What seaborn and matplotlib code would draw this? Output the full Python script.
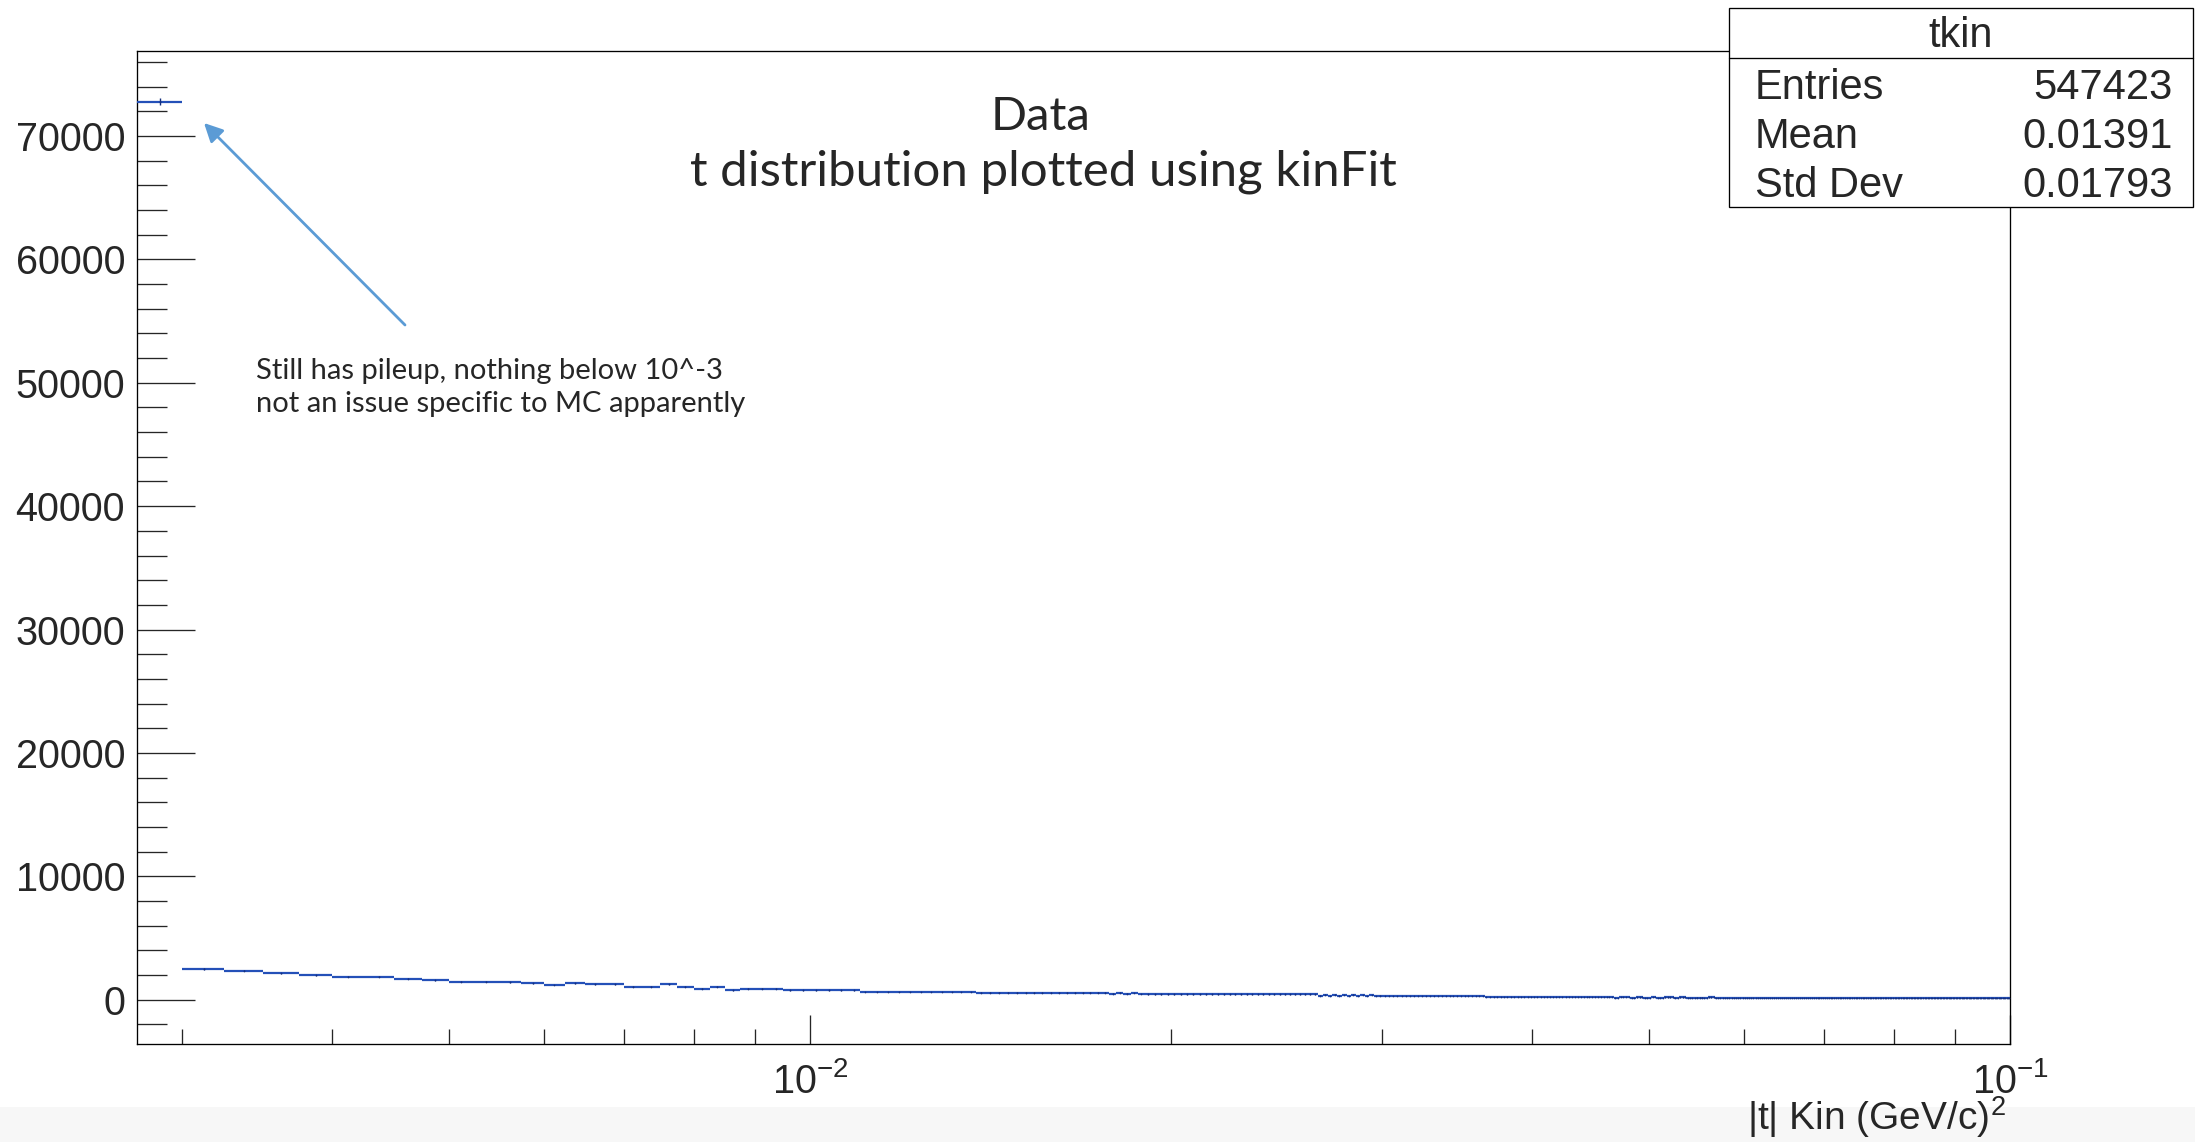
import numpy as np
import pandas as pd
import matplotlib
matplotlib.use("Agg")
import matplotlib.pyplot as plt
import seaborn as sns
from matplotlib.patches import Rectangle, FancyArrowPatch
from matplotlib.ticker import FixedLocator, FixedFormatter, NullFormatter, LogLocator, MultipleLocator

# ---------------- data ----------------
BIN_LOW = 0.00275      # |t| histogram binning (GeV/c)^2
BIN_HIGH = 0.1
N_BINS = 389

spike_counts = [72780]                       # pile-up bin 0.00275-0.003
low_t_counts = [2487, 2349, 2133, 1971, 1870, 1855, 1701, 1566, 1458, 1458,
                1420, 1323, 1188, 1323, 1242, 1242, 1053, 1053, 1242, 1053,
                891, 1053, 756, 891, 891, 891, 756, 756, 756, 756,
                756, 756, 621, 621, 621, 621, 621, 621, 621, 621,
                621, 621, 621]
mid_t_counts = [580] * 15 + [580, 500, 580, 500, 560, 480] + [440] * 29 + \
               [430, 330, 420, 320, 410, 330, 400, 310, 420, 300, 400, 320, 380, 300, 330]
tail_runs = [(280, 26), (220, 38),
             (210, 3), (140, 2), (200, 4), (130, 2), (190, 3), (150, 3), (200, 2),
             (120, 3), (180, 4), (140, 2), (190, 3), (130, 4), (170, 3), (140, 2),
             (180, 3), (120, 4), (160, 3), (130, 2),
             (130, 82), (110, 82)]

stats_labels = ["Entries", "Mean", "Std Dev"]
stats_values = ["547423", "0.01391", "0.01793"]
y_major_ticks = [0, 10000, 20000, 30000, 40000, 50000, 60000, 70000]
x_major_ticks = [0.01, 0.1]
x_major_labels = [r"$10^{-2}$", r"$10^{-1}$"]

# ---------------- build table ----------------
counts = list(spike_counts) + list(low_t_counts) + list(mid_t_counts)
for v, n in tail_runs:
    counts += [v] * n
counts = np.array(counts, dtype=float)
edges = np.linspace(BIN_LOW, BIN_HIGH, N_BINS + 1)
df = pd.DataFrame({"lo": edges[:-1], "hi": edges[1:], "count": counts[:N_BINS]})
df["t"] = 0.5 * (df["lo"] + df["hi"])
df["err"] = np.sqrt(df["count"])

# ---------------- style ----------------
W, H = 2195, 1142
sns.set_style("ticks")
plt.rcParams["font.family"] = ["Liberation Sans", "DejaVu Sans"]
plt.rcParams["mathtext.fontset"] = "custom"
plt.rcParams["mathtext.rm"] = "Liberation Sans"
plt.rcParams["mathtext.it"] = "Liberation Sans:italic"
plt.rcParams["mathtext.bf"] = "Liberation Sans:bold"
plt.rcParams["axes.linewidth"] = 0.95
plt.rcParams["axes.edgecolor"] = "black"

def fx(x):
    return x / W

def fy(y):
    return 1 - y / H

fig = plt.figure(figsize=(W / 100, H / 100), dpi=100)
fig.patch.set_facecolor("white")

# grey slide band at bottom
fig.add_artist(Rectangle((0, 0), 1, fy(1107), transform=fig.transFigure,
                         facecolor="#f7f7f7", edgecolor="none", zorder=-5))

ax = fig.add_axes([fx(137), fy(1044), fx(2010) - fx(137), fy(51) - fy(1044)])
ax.set_facecolor("white")

BLUE = "#2450b8"
NAVY = "#15307e"
ax.hlines(df["count"], df["lo"], df["hi"], color=BLUE, lw=1.6, zorder=3)
ax.vlines(df["t"], df["count"] - df["err"], df["count"] + df["err"], color=NAVY, lw=1.0, zorder=4)
sns.scatterplot(data=df, x="t", y="count", ax=ax, s=1.5, color=NAVY, marker="o",
                linewidth=0, legend=False, zorder=5)

ax.set_xscale("log")
ax.set_xlim(BIN_LOW, BIN_HIGH)
ax.set_ylim(-3590, 76890)

ax.xaxis.set_major_locator(FixedLocator(x_major_ticks))
ax.xaxis.set_major_formatter(FixedFormatter(x_major_labels))
ax.xaxis.set_minor_locator(LogLocator(base=10, subs=np.arange(2, 10)))
ax.xaxis.set_minor_formatter(NullFormatter())
ax.yaxis.set_major_locator(FixedLocator(y_major_ticks))
ax.yaxis.set_major_formatter(FixedFormatter([str(v) for v in y_major_ticks]))
ax.yaxis.set_minor_locator(MultipleLocator(2000))

ax.tick_params(axis="x", which="major", direction="in", length=20.9, width=0.95,
               pad=13, labelsize=28.5, top=False, bottom=True)
ax.tick_params(axis="x", which="minor", direction="in", length=10.8, width=0.95,
               top=False, bottom=True)
ax.tick_params(axis="y", which="major", direction="in", length=41.8, width=0.95,
               pad=8.6, labelsize=28.5, right=False, left=True)
ax.tick_params(axis="y", which="minor", direction="in", length=21.6, width=0.95,
               right=False, left=True)
for s in ax.spines.values():
    s.set_visible(True)
    s.set_linewidth(0.95)
    s.set_color("black")

ax.set_ylabel("")
ax.set_xlabel(r"|t| Kin (GeV/c)$^{2}$", fontsize=28)
ax.xaxis.label.set_ha("right")
ax.xaxis.label.set_va("center")
ax.xaxis.set_label_coords(0.998, -(1117 - 1044) / (1044 - 51))

# stats box
fig.add_artist(Rectangle((fx(1729), fy(207)), fx(2193) - fx(1729), fy(8) - fy(207),
                         transform=fig.transFigure, facecolor="white",
                         edgecolor="black", lw=0.95, zorder=10))
fig.add_artist(plt.Line2D([fx(1729), fx(2193)], [fy(58), fy(58)],
                          transform=fig.transFigure, color="black", lw=0.95, zorder=11))
fig.text(fx(1961), fy(47), "tkin", ha="center", va="baseline", fontsize=30, zorder=12)
for i, (lab, val) in enumerate(zip(stats_labels, stats_values)):
    yb = 99 + 49 * i
    fig.text(fx(1755), fy(yb), lab, ha="left", va="baseline", fontsize=30, zorder=12)
    fig.text(fx(2173), fy(yb), val, ha="right", va="baseline", fontsize=30, zorder=12)

# slide annotations
fig.text(fx(1041), fy(130), "Data", ha="center", va="baseline",
         fontsize=34, family=["Lato", "DejaVu Sans"], zorder=12)
fig.text(fx(1043), fy(186), "t distribution plotted using kinFit", ha="center",
         va="baseline", fontsize=35.5, family=["Lato", "DejaVu Sans"], zorder=12)
fig.text(fx(256), fy(379), "Still has pileup, nothing below 10^-3", ha="left",
         va="baseline", fontsize=21, family=["Lato", "DejaVu Sans"], zorder=12)
fig.text(fx(256), fy(412), "not an issue specific to MC apparently", ha="left",
         va="baseline", fontsize=21, family=["Lato", "DejaVu Sans"], zorder=12)

fig.add_artist(FancyArrowPatch((fx(405), fy(325)), (fx(204), fy(123)),
                               transform=fig.transFigure, arrowstyle="-|>",
                               mutation_scale=28, color="#5b9bd5", lw=2.0,
                               shrinkA=0, shrinkB=0, zorder=12))

fig.savefig("out.png", dpi=100, facecolor="white")
